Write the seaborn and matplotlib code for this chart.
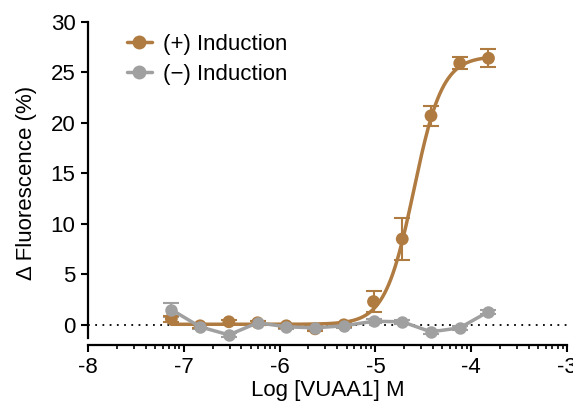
import numpy as np
import pandas as pd
import matplotlib
matplotlib.use("Agg")
import matplotlib.pyplot as plt
import seaborn as sns

# Log concentrations of VUAA1 (M) and responses
log_conc = [-7.13, -6.83, -6.53, -6.23, -5.93, -5.63, -5.33, -5.02, -4.72, -4.42, -4.12, -3.82]
plus_mean = [0.6, -0.1, 0.3, 0.2, -0.1, -0.4, 0.0, 2.3, 8.5, 20.7, 25.9, 26.4]
plus_sem = [0.3, 0.2, 0.2, 0.2, 0.2, 0.2, 0.2, 1.0, 2.1, 1.0, 0.6, 0.9]
minus_mean = [1.5, -0.2, -1.0, 0.2, -0.2, -0.3, -0.1, 0.35, 0.3, -0.7, -0.3, 1.3]
minus_sem = [0.7, 0.2, 0.2, 0.2, 0.2, 0.2, 0.2, 0.2, 0.2, 0.2, 0.2, 0.2]

# Hill fit parameters for the (+) induction curve
fit_bottom = 0.05
fit_top = 26.6
fit_logec50 = -4.6
fit_hill = 2.9

orange = "#B07B40"
grey = "#A0A0A0"

sns.set_style("ticks")
plt.rcParams["font.family"] = ["Liberation Sans", "DejaVu Sans"]
plt.rcParams["text.color"] = "black"
plt.rcParams["axes.labelcolor"] = "black"

df = pd.DataFrame({"logc": log_conc, "plus": plus_mean, "plus_sem": plus_sem,
                   "minus": minus_mean, "minus_sem": minus_sem})

xfit = np.linspace(log_conc[0], log_conc[-1], 300)
yfit = fit_bottom + (fit_top - fit_bottom) / (1 + 10 ** ((fit_logec50 - xfit) * fit_hill))
fit_df = pd.DataFrame({"logc": xfit, "resp": yfit})

fig = plt.figure(figsize=(5.73, 4.09), dpi=100)
ax = fig.add_axes([0.1536, 0.1565, 0.836, 0.79])

ax.axhline(0, color="black", ls=(0, (1, 3)), lw=1.3, zorder=1)

# (-) induction: points joined by straight lines
ax.errorbar(df["logc"], df["minus"], yerr=df["minus_sem"], fmt="none",
            ecolor=grey, elinewidth=1.5, capsize=6, capthick=1.5, zorder=2)
sns.lineplot(data=df, x="logc", y="minus", ax=ax, color=grey, lw=2.5,
             marker="o", markersize=9, markeredgewidth=0, zorder=4)

# (+) induction: points with fitted sigmoid
ax.errorbar(df["logc"], df["plus"], yerr=df["plus_sem"], fmt="none",
            ecolor=orange, elinewidth=1.5, capsize=6, capthick=1.5, zorder=2)
sns.lineplot(data=fit_df, x="logc", y="resp", ax=ax, color=orange, lw=2.5, zorder=3)
sns.scatterplot(data=df, x="logc", y="plus", ax=ax, color=orange, s=85,
                edgecolor="none", zorder=3)

# legend
ax.plot([], [], color=orange, lw=2.5, marker="o", markersize=9, label="(+) Induction")
ax.plot([], [], color=grey, lw=2.5, marker="o", markersize=9, label="(\u2212) Induction")
ax.legend(loc="upper left", bbox_to_anchor=(0.04, 1.025), frameon=False, fontsize=16,
          handlelength=1.1, handletextpad=0.5, labelspacing=0.4)

ax.set_xlim(-8, -3)
ax.set_ylim(-2, 30)
ax.set_xticks([-8, -7, -6, -5, -4, -3])
ax.set_xticklabels(["-8", "-7", "-6", "-5", "-4", "-3"])
minor = [d + np.log10(k) for d in range(-8, -3) for k in range(2, 10)]
ax.set_xticks(minor, minor=True)
ax.set_yticks([0, 5, 10, 15, 20, 25, 30])

sns.despine(ax=ax)
ax.spines["left"].set_bounds(-1.3, 30)
for s in ["left", "bottom"]:
    ax.spines[s].set_linewidth(1.6)
    ax.spines[s].set_color("black")
ax.tick_params(which="major", length=5, width=1.5, labelsize=16, colors="black", pad=4)
ax.tick_params(which="minor", length=3, width=1.2, colors="black")

ax.set_xlabel("Log [VUAA1] M", fontsize=16, labelpad=1)
ax.set_ylabel("\u0394 Fluorescence (%)", fontsize=16, labelpad=10)

fig.savefig("out.png", dpi=100)
